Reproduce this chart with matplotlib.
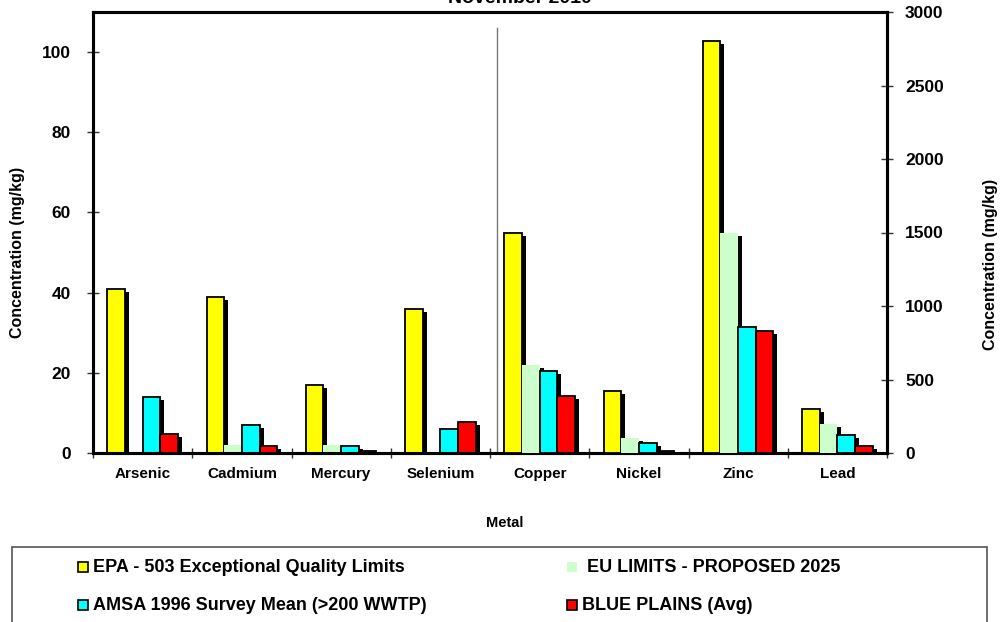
import numpy as np
import matplotlib
matplotlib.use('Agg')
import matplotlib.pyplot as plt
from matplotlib.patches import Rectangle
from matplotlib.transforms import offset_copy

plt.rcParams['font.family'] = ['Liberation Sans', 'DejaVu Sans']
plt.rcParams['font.weight'] = 'bold'

# metal concentrations (mg/kg); first four on the left scale, last four on the right
metals = ['Arsenic', 'Cadmium', 'Mercury', 'Selenium', 'Copper', 'Nickel', 'Zinc', 'Lead']
epa_503 = [41, 39, 17, 36, 1500, 420, 2800, 300]
eu_2025 = [0, 2, 2, 0, 600, 100, 1500, 200]
amsa_1996 = [14, 7, 1.8, 6, 560, 70, 860, 120]
blue_plains = [4.8, 1.8, 0.5, 7.8, 390, 16, 830, 45]

left_ticks = [0, 20, 40, 60, 80, 100]
right_ticks = [0, 500, 1000, 1500, 2000, 2500, 3000]

series = [
    ('EPA - 503 Exceptional Quality Limits', epa_503, '#ffff00', 'black'),
    ('EU LIMITS - PROPOSED 2025', eu_2025, '#ccffcc', 'none'),
    ('AMSA 1996 Survey Mean (>200 WWTP)', amsa_1996, '#00ffff', 'black'),
    ('BLUE PLAINS (Avg)', blue_plains, '#ff0000', 'black'),
]

fig = plt.figure(figsize=(10, 6.22), dpi=100)
ax = fig.add_axes([0.093, 169 / 622, 0.794, 441 / 622])
ax2 = ax.twinx()

x = np.arange(len(metals))
w = 0.178
left = x < 4
right = ~left

for i, (name, vals, color, edge) in enumerate(series):
    vals = np.array(vals, dtype=float)
    off = (i - 1.5) * w
    for a, mask in ((ax, left), (ax2, right)):
        shadow = offset_copy(a.transData, fig=fig, x=4, y=-3, units='dots')
        a.bar(x[mask] + off, vals[mask], w, color='black', edgecolor='none',
              transform=shadow, zorder=2 + 2 * i)
        a.bar(x[mask] + off, vals[mask], w, color=color, edgecolor=edge,
              linewidth=1.3, zorder=3 + 2 * i)

# separator between the two scales
ax.plot([3.57, 3.57], [0, 106], color='#777777', lw=1.0, zorder=1)

ax.set_xlim(-0.5, 7.5)
ax.set_ylim(0, 110)
ax2.set_ylim(0, 3000)

ax.set_xticks(x)
ax.set_xticklabels(metals, fontsize=11, fontweight='bold')
ax.set_xticks(np.arange(-0.5, 8, 1), minor=True)
ax.tick_params(axis='x', which='major', length=0, pad=10)
ax.tick_params(axis='x', which='minor', direction='inout', length=7, width=1, color='#333333')

ax.set_yticks(left_ticks)
ax.set_yticklabels([str(t) for t in left_ticks], fontsize=12.5, fontweight='bold')
ax.tick_params(axis='y', direction='inout', length=8, width=1, color='#333333', pad=12)
ax2.set_yticks(right_ticks)
ax2.set_yticklabels([str(t) for t in right_ticks], fontsize=12.5, fontweight='bold')
ax2.tick_params(axis='y', direction='inout', length=8, width=1, color='#333333', pad=9)

for a in (ax, ax2):
    for s in a.spines.values():
        s.set_linewidth(2.2)
        s.set_color('black')

fig.text(0.52, 1 - 3 / 622, 'November 2010', ha='center', va='baseline',
         fontsize=14, fontweight='bold')
fig.text(0.018, 1 - 252 / 622, 'Concentration (mg/kg)', rotation=90,
         ha='center', va='center', fontsize=11.5, fontweight='bold')
fig.text(0.991, 1 - 264 / 622, 'Concentration (mg/kg)', rotation=90,
         ha='center', va='center', fontsize=11.5, fontweight='bold')
fig.text(0.505, 1 - 523 / 622, 'Metal', ha='center', va='center',
         fontsize=10.5, fontweight='bold')

# legend box along the bottom
fig.add_artist(Rectangle((12 / 1000, -0.02), 975 / 1000, 0.02 + 75 / 622,
                         transform=fig.transFigure, facecolor='white',
                         edgecolor='#555555', linewidth=1.2))
legend_pos = [(78, 93, 567), (567, 587, 567), (78, 93, 605), (567, 582, 605)]
for (name, vals, color, edge), (mx, tx, my) in zip(series, legend_pos):
    fig.add_artist(Rectangle((mx / 1000, 1 - (my + 5) / 622), 10 / 1000, 10 / 622,
                             transform=fig.transFigure, facecolor=color,
                             edgecolor=edge, linewidth=1.2))
    fig.text(tx / 1000, 1 - my / 622, name, ha='left', va='center',
             fontsize=13, fontweight='bold')

fig.savefig('out.png', dpi=100)
